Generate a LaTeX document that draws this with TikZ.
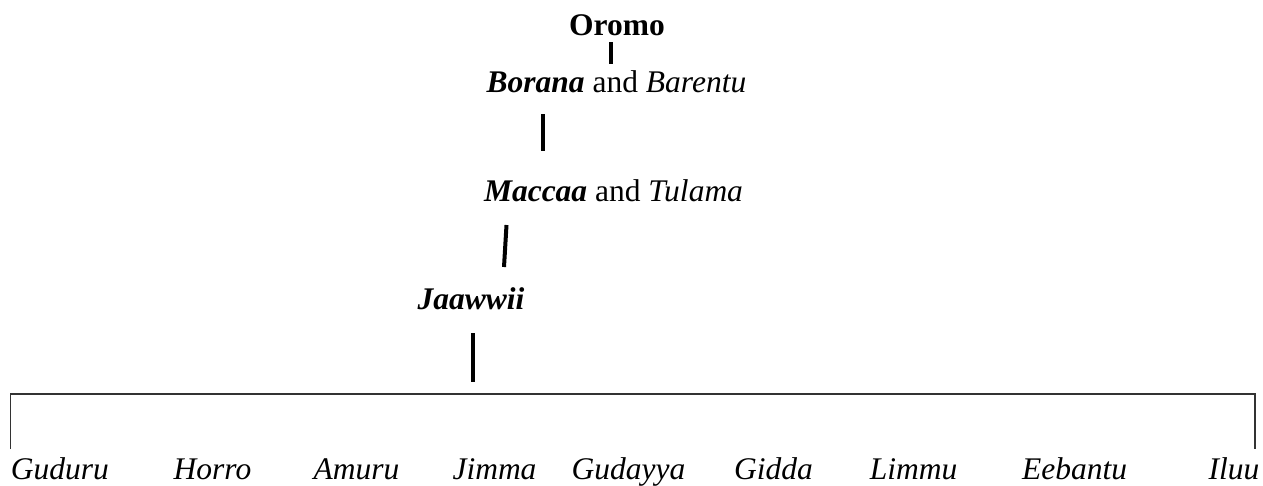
\documentclass[tikz,border=0pt]{standalone}
\usepackage{fontspec}
\setmainfont{Liberation Serif}
\begin{document}
\begin{tikzpicture}[x=1pt,y=-1pt,
  lbl/.style={inner sep=0pt,anchor=base,font=\fontsize{31.5}{36}\selectfont},
  stem/.style={line width=4pt,black},
  bracket/.style={line width=1.1pt,black!80}]
\useasboundingbox (0,0) rectangle (1263,485);

% levels of the family tree
\node[lbl] (oromo) at (617,35) {\bfseries Oromo};
\node[lbl] (borana) at (616.5,92) {{\bfseries\itshape Borana} and {\itshape Barentu}};
\node[lbl] (maccaa) at (613.5,201) {{\bfseries\itshape Maccaa} and {\itshape Tulama}};
\node[lbl] (jaawwii) at (471,309) {\bfseries\itshape Jaawwii};

% clans
\node[lbl] (guduru)  at (60,479)    {\itshape Guduru};
\node[lbl] (horro)   at (212.5,479) {\itshape Horro};
\node[lbl] (amuru)   at (356.5,479) {\itshape Amuru};
\node[lbl] (jimma)   at (494.5,479) {\itshape Jimma};
\node[lbl] (gudayya) at (628.5,479) {\itshape Gudayya};
\node[lbl] (gidda)   at (773.5,479) {\itshape Gidda};
\node[lbl] (limmu)   at (913.5,479) {\itshape Limmu};
\node[lbl] (eebantu) at (1074.5,479){\itshape Eebantu};
\node[lbl] (iluu)    at (1234,479)  {\itshape Iluu};

% stems between levels
\coordinate (s1a) at (611,42);   \coordinate (s1b) at (611,64);
\coordinate (s2a) at (543,114);  \coordinate (s2b) at (543,151);
\coordinate (s3a) at (506.5,225);\coordinate (s3b) at (504,267);
\coordinate (s4a) at (473,333);  \coordinate (s4b) at (473,382);
\draw[stem] (s1a) -- (s1b);
\draw[stem] (s2a) -- (s2b);
\draw[stem] (s3a) -- (s3b);
\draw[stem] (s4a) -- (s4b);

% bracket over the clans
\coordinate (bL)  at (10.5,449);
\coordinate (bLt) at (10.5,394);
\coordinate (bRt) at (1255,394);
\coordinate (bR)  at (1255,449);
\draw[bracket] (bL) -- (bLt) -- (bRt) -- (bR);
\end{tikzpicture}
\end{document}
